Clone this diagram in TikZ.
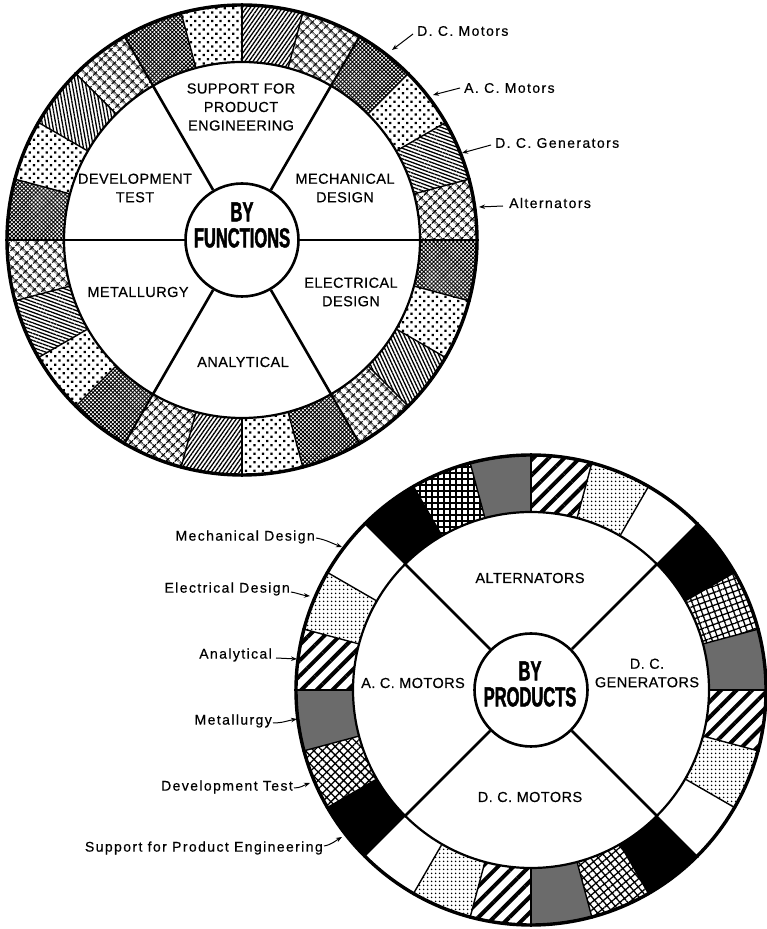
\documentclass[tikz,border=0pt]{standalone}
\usepackage{fontspec}
\setmainfont{Liberation Sans}
\newfontfamily\lblfont{Liberation Sans}[LetterSpace=10,FakeBold=0.5]
\newfontfamily\capfont{Liberation Sans}[LetterSpace=3,FakeBold=0.5]
\newfontfamily\hubfont{Liberation Sans Bold}[FakeStretch=0.6,FakeBold=1.6]
\usetikzlibrary{patterns.meta,arrows.meta}
\newcommand\ringseg[3]{\path[#3] (#1:235) arc[start angle=#1,end angle=#2,radius=235] -- (#2:178) arc[start angle=#2,end angle=#1,radius=178] -- cycle;}
\begin{document}
\begin{tikzpicture}[x=1pt,y=1pt,
  lbltxt/.style={font=\lblfont\fontsize{14}{16}\selectfont, inner sep=1pt},
  captxt/.style={font=\capfont\fontsize{14.5}{18.5}\selectfont, align=center, inner sep=1pt},
  hubtxt/.style={font=\hubfont\fontsize{27.5}{26}\selectfont, align=center, inner sep=0pt},
  lblarrow/.style={line width=1pt, -{Stealth[length=6pt,width=4.5pt]}},
  spokeline/.style={line width=2.6pt},
  segdiv/.style={line width=1.4pt},
  outerc/.style={circle, draw, line width=3.4pt, minimum size=470pt, inner sep=0pt},
  innerc/.style={circle, draw, line width=2.2pt, minimum size=356pt, inner sep=0pt},
  hubc/.style={circle, draw, fill=white, line width=2.6pt, minimum size=113pt, inner sep=0pt},
  pcoarse/.style={pattern={Hatch[angle=45,distance=6.5pt,line width=1.4pt]}},
  pfine/.style={pattern={Hatch[angle=45,distance=2.8pt,line width=0.9pt]}},
  pbigdots/.style={pattern={Dots[angle=45,distance=6pt,radius=1.6pt]}},
  plines/.style={pattern={Lines[angle=#1,distance=3.3pt,line width=1.3pt]}},
  psmalldots/.style={pattern={Dots[distance=4pt,radius=1.05pt]}},
  pboldln/.style={pattern={Lines[angle=45,distance=11pt,line width=4pt]}},
  pgray/.style={fill=black!58},
  pgrid/.style={pattern={Hatch[angle=#1,distance=6pt,line width=1.3pt]}},
  pblack/.style={fill=black}
]
\useasboundingbox (0,0) rectangle (766,929);

% ---------------- top wheel: BY FUNCTIONS ----------------
\coordinate (c1) at (242,689);
\begin{scope}[shift={(242,689)}]
\foreach \s/\la in {0/-20,1/55,2/100,3/-20,4/55,5/-65}{
  \pgfmathsetmacro\aA{60*\s}
  \pgfmathsetmacro\aB{60*\s+15}
  \pgfmathsetmacro\aC{60*\s+30}
  \pgfmathsetmacro\aD{60*\s+45}
  \pgfmathsetmacro\aE{60*\s+60}
  \ringseg{\aA}{\aB}{pcoarse}
  \ringseg{\aB}{\aC}{plines=\la}
  \ringseg{\aC}{\aD}{pbigdots}
  \ringseg{\aD}{\aE}{pfine}
}
\end{scope}
\node[outerc] (ring1) at (c1) {};
\node[innerc] (ringin1) at (c1) {};
\node[hubc] (hub1) at (c1) {};
\foreach \a in {15,30,45,75,90,105,135,150,165,195,210,225,255,270,285,315,330,345}
  \draw[segdiv] (ringin1.\a) -- (ring1.\a);
\foreach \a in {0,60,120,180,240,300}{
  \draw[spokeline] (hub1.\a) -- (ringin1.\a);
  \draw[line width=2pt] (ringin1.\a) -- (ring1.\a);
}
\node[hubtxt] (hubt1) at (242,704) {BY\\FUNCTIONS};

\node[captxt] (f1) at (241,822) {SUPPORT FOR\\PRODUCT\\ENGINEERING};
\node[captxt] (f2) at (345,741) {MECHANICAL\\DESIGN};
\node[captxt] (f3) at (351,637) {ELECTRICAL\\DESIGN};
\node[captxt] (f4) at (243,567) {ANALYTICAL};
\node[captxt] (f5) at (138,637) {METALLURGY};
\node[captxt] (f6) at (135,741) {DEVELOPMENT\\TEST};

\node[lbltxt, anchor=west] (p1) at (416,898) {D. C. Motors};
\node[lbltxt, anchor=west] (p2) at (463,841) {A. C. Motors};
\node[lbltxt, anchor=west] (p3) at (494,786) {D. C. Generators};
\node[lbltxt, anchor=west] (p4) at (508,726) {Alternators};
\coordinate (tp1) at (392,879);
\coordinate (tp2) at (433,834);
\coordinate (tp3) at (462,776);
\coordinate (tp4) at (479,722);
\draw[lblarrow] ([xshift=-3pt,yshift=-3pt]p1.west) -- (tp1);
\draw[lblarrow] ([xshift=-3pt]p2.west) -- (tp2);
\draw[lblarrow] ([xshift=-3pt,yshift=-2pt]p3.west) -- (tp3);
\draw[lblarrow] ([xshift=-5pt,yshift=-3pt]p4.west) -- (tp4);

% ---------------- bottom wheel: BY PRODUCTS ----------------
\coordinate (c2) at (531,239);
\begin{scope}[shift={(531,239)}]
\foreach \s/\ga in {0/20,1/0,2/45,3/40}{
  \pgfmathsetmacro\aB{-45+90*\s+15}
  \pgfmathsetmacro\aC{-45+90*\s+30}
  \pgfmathsetmacro\aD{-45+90*\s+45}
  \pgfmathsetmacro\aE{-45+90*\s+60}
  \pgfmathsetmacro\aF{-45+90*\s+75}
  \pgfmathsetmacro\aG{-45+90*\s+90}
  \ringseg{\aB}{\aC}{psmalldots}
  \ringseg{\aC}{\aD}{pboldln}
  \ringseg{\aD}{\aE}{pgray}
  \ringseg{\aE}{\aF}{pgrid=\ga}
  \ringseg{\aF}{\aG}{pblack}
}
\end{scope}
\node[outerc] (ring2) at (c2) {};
\node[innerc] (ringin2) at (c2) {};
\node[hubc] (hub2) at (c2) {};
\foreach \a in {0,15,30,60,75,90,105,120,150,165,180,195,210,240,255,270,285,300,330,345}
  \draw[segdiv] (ringin2.\a) -- (ring2.\a);
\foreach \a in {45,135,225,315}{
  \draw[spokeline] (hub2.\a) -- (ringin2.\a);
  \draw[segdiv] (ringin2.\a) -- (ring2.\a);
}
\node[hubtxt] (hubt2) at (530,245) {BY\\PRODUCTS};

\node[captxt] (q1) at (530,351) {ALTERNATORS};
\node[captxt] (q2) at (413,246) {A. C. MOTORS};
\node[captxt] (q3) at (647,256) {D. C.\\GENERATORS};
\node[captxt] (q4) at (530,132) {D. C. MOTORS};

\node[lbltxt, anchor=east] (m1) at (316,392) {Mechanical Design};
\node[lbltxt, anchor=east] (m2) at (291,340) {Electrical Design};
\node[lbltxt, anchor=east] (m3) at (273,274) {Analytical};
\node[lbltxt, anchor=east] (m4) at (273,208) {Metallurgy};
\node[lbltxt, anchor=east] (m5) at (294,142) {Development Test};
\node[lbltxt, anchor=east] (m6) at (324,81) {Support for Product Engineering};
\coordinate (tm1) at (342,382);
\coordinate (tm2) at (310,333);
\coordinate (tm3) at (297,270);
\coordinate (tm4) at (297,210);
\coordinate (tm5) at (310,146);
\coordinate (tm6) at (342,92);
\draw[lblarrow] ([yshift=-1pt]m1.east) to[out=-10,in=160] (tm1);
\draw[lblarrow] ([yshift=-3pt]m2.east) to[out=-10,in=175] (tm2);
\draw[lblarrow] ([xshift=3pt,yshift=-3pt]m3.east) -- (tm3);
\draw[lblarrow] ([yshift=-2pt]m4.east) to[out=0,in=190] (tm4);
\draw[lblarrow] ([yshift=-1pt]m5.east) to[out=0,in=200] (tm5);
\draw[lblarrow] ([yshift=2pt]m6.east) to[out=10,in=210] (tm6);
\end{tikzpicture}
\end{document}
